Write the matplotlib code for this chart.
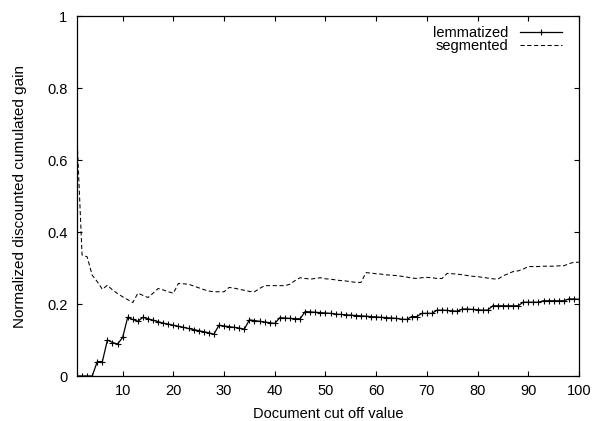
import matplotlib
matplotlib.use("Agg")
from matplotlib import pyplot as plt
import numpy as np

plt.rcParams['font.family'] = ['Liberation Sans', 'DejaVu Sans']

cutoff = np.arange(1, 101)

lemmatized = [
    0.000, 0.000, 0.000, 0.000, 0.040, 0.040, 0.100, 0.093, 0.089, 0.107,
    0.163, 0.157, 0.152, 0.163, 0.159, 0.155, 0.151, 0.147, 0.144, 0.141,
    0.138, 0.135, 0.132, 0.129, 0.126, 0.123, 0.120, 0.116, 0.141, 0.139,
    0.137, 0.135, 0.133, 0.130, 0.156, 0.154, 0.152, 0.150, 0.148, 0.146,
    0.162, 0.161, 0.160, 0.159, 0.159, 0.179, 0.178, 0.177, 0.176, 0.175,
    0.174, 0.172, 0.171, 0.170, 0.169, 0.168, 0.167, 0.166, 0.165, 0.164,
    0.163, 0.162, 0.161, 0.160, 0.158, 0.157, 0.165, 0.165, 0.174, 0.174,
    0.174, 0.183, 0.183, 0.182, 0.181, 0.180, 0.186, 0.186, 0.185, 0.184,
    0.183, 0.183, 0.195, 0.195, 0.195, 0.195, 0.195, 0.195, 0.205, 0.205,
    0.205, 0.205, 0.209, 0.209, 0.209, 0.209, 0.209, 0.214, 0.214, 0.213,
]

segmented = [
    0.665, 0.336, 0.331, 0.280, 0.262, 0.241, 0.252, 0.239, 0.229, 0.220,
    0.212, 0.204, 0.230, 0.224, 0.218, 0.230, 0.243, 0.239, 0.234, 0.230,
    0.257, 0.256, 0.255, 0.250, 0.245, 0.240, 0.236, 0.234, 0.234, 0.234,
    0.246, 0.244, 0.241, 0.238, 0.235, 0.234, 0.243, 0.251, 0.251, 0.251,
    0.251, 0.251, 0.255, 0.265, 0.273, 0.271, 0.269, 0.271, 0.273, 0.270,
    0.269, 0.267, 0.265, 0.264, 0.262, 0.260, 0.260, 0.287, 0.286, 0.284,
    0.283, 0.281, 0.280, 0.279, 0.277, 0.275, 0.272, 0.271, 0.273, 0.274,
    0.273, 0.271, 0.271, 0.285, 0.284, 0.283, 0.281, 0.279, 0.277, 0.276,
    0.274, 0.272, 0.270, 0.269, 0.278, 0.284, 0.290, 0.292, 0.297, 0.304,
    0.304, 0.304, 0.305, 0.305, 0.305, 0.306, 0.306, 0.312, 0.316, 0.316,
]

xticks = [10, 20, 30, 40, 50, 60, 70, 80, 90, 100]
yticks = [0, 0.2, 0.4, 0.6, 0.8, 1.0]
yticklabels = ["0", "0.2", "0.4", "0.6", "0.8", "1"]

fig = plt.figure(figsize=(5.95, 4.21), dpi=100)
ax = fig.add_axes([77 / 595, 45 / 421, 502 / 595, 360 / 421])

ax.plot(cutoff, lemmatized, color="black", lw=0.9, marker="+", ms=4.5,
        mew=0.8, label="lemmatized")
ax.plot(cutoff, segmented, color="black", lw=0.75, dashes=(4, 2.5),
        label="segmented")

ax.set_xlim(1, 100)
ax.set_ylim(0, 1)
ax.set_xticks(xticks)
ax.set_yticks(yticks)
ax.set_yticklabels(yticklabels)
ax.tick_params(direction="in", top=True, right=True, length=3.3, width=0.8,
               labelsize=10.5, colors="black")
ax.tick_params(axis="x", pad=6)
ax.tick_params(axis="y", pad=7)
for s in ax.spines.values():
    s.set_linewidth(0.9)

ax.set_xlabel("Document cut off value", fontsize=10.5, labelpad=6.5)
ax.set_ylabel("Normalized discounted cumulated gain", fontsize=11, labelpad=14)

ax.legend(loc="upper right", frameon=False, markerfirst=False, fontsize=10.5,
          handlelength=2.9, handletextpad=0.8, labelspacing=-0.05,
          borderpad=0, borderaxespad=0,
          bbox_to_anchor=(562 / 595, (421 - 26) / 421),
          bbox_transform=fig.transFigure)

fig.savefig("out.png", dpi=100)
